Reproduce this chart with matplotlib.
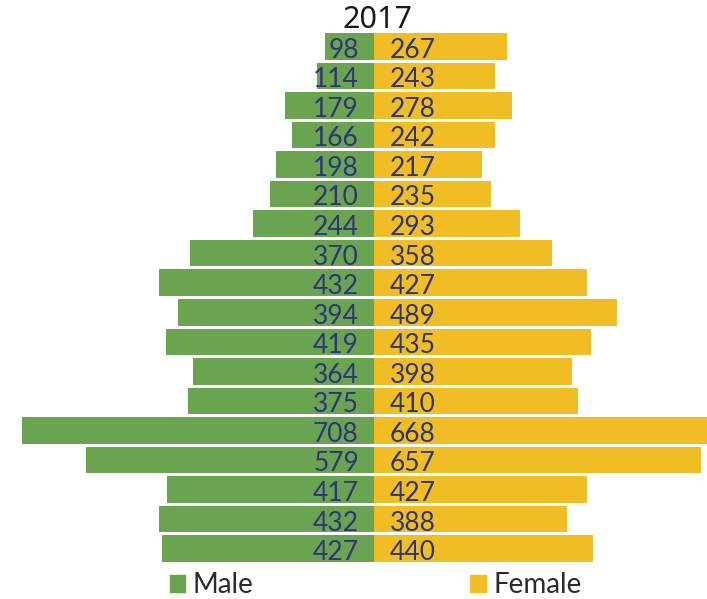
import matplotlib.pyplot as plt
from matplotlib.patches import Patch

# ─── DATA ──────────────────────────────────────────────────────────────────────
TITLE = "2017"
MALE = [98, 114, 179, 166, 198, 210, 244, 370, 432, 394, 419, 364, 375, 708, 579, 417, 432, 427]
FEMALE = [267, 243, 278, 242, 217, 235, 293, 358, 427, 489, 435, 398, 410, 668, 657, 427, 388, 440]
SERIES = ["Male", "Female"]

GREEN = "#6aa451"
YELLOW = "#f0be24"
NAVY = "#2e3577"
# ────────────────────────────────────────────────────────────────────────────────

fig = plt.figure(figsize=(7.07, 5.99), dpi=100)
ax = fig.add_axes([0, 1 - 562 / 599, 1, (562 - 33) / 599])

rows = list(range(len(MALE)))
ax.barh(rows, [-v for v in MALE], height=0.9, color=GREEN, edgecolor="none")
ax.barh(rows, FEMALE, height=0.9, color=YELLOW, edgecolor="none")

num_font = dict(family="Lato", weight="normal", fontsize=19, color=NAVY)
for r, m, f in zip(rows, MALE, FEMALE):
    ax.annotate(str(m), (0, r), xytext=(-11, -1), textcoords="offset points",
                ha="right", va="center_baseline", **num_font)
    ax.annotate(str(f), (0, r), xytext=(11, -1), textcoords="offset points",
                ha="left", va="center_baseline", **num_font)

ax.set_xlim(-752, 669)
ax.set_ylim(len(MALE) - 0.55, -0.45)
ax.axis("off")

fig.text(378 / 707, 1 - 20 / 599, TITLE, ha="center", va="center",
         fontsize=22, color="#1a1a1a", family="Noto Sans")

handles = [Patch(color=GREEN, label=SERIES[0]), Patch(color=YELLOW, label=SERIES[1])]
fig.legend(handles=handles, loc="center left", bbox_to_anchor=(170 / 707, 1 - 585 / 599),
           ncol=2, frameon=False, borderpad=0, borderaxespad=0,
           handlelength=0.55, handleheight=0.55, handletextpad=0.27,
           columnspacing=7.8, prop=dict(family="Lato", weight="normal", size=20),
           labelcolor="#2b2b2b")

fig.savefig("out.png", dpi=100)
